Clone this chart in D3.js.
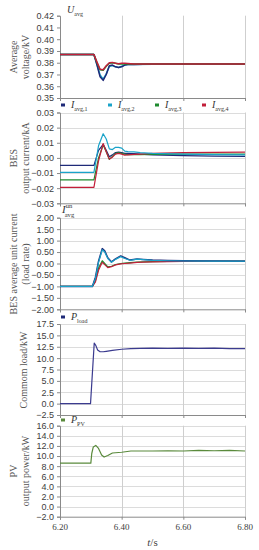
<!DOCTYPE html>
<html>
<head>
<meta charset="utf-8">
<script src="https://cdn.jsdelivr.net/npm/d3@7/dist/d3.min.js"></script>
<style>
  body { margin: 0; background: #fff; }
  svg { font-family: "Liberation Serif", "DejaVu Serif", serif; }
  .tick text { fill: #404040; font-size: 9px; }
  .axisTitle { fill: #555; font-size: 10px; }
</style>
</head>
<body>
<script>
// time ticks (x axis)
var xTicks = [6.20, 6.40, 6.60, 6.80];

// panel 1: average voltage (kV)
var tV = [6.20, 6.31, 6.32, 6.33, 6.34, 6.35, 6.36, 6.37, 6.38, 6.39, 6.40, 6.41, 6.42, 6.44, 6.50, 6.60, 6.80];
var uAvg1 = [0.387, 0.387, 0.378, 0.368, 0.365, 0.370, 0.3775, 0.378, 0.3765, 0.376, 0.3765, 0.378, 0.3785, 0.3785, 0.379, 0.379, 0.379];
var uAvg2 = [0.387, 0.387, 0.3785, 0.3695, 0.366, 0.3705, 0.377, 0.3775, 0.3765, 0.376, 0.377, 0.378, 0.3785, 0.3785, 0.3788, 0.379, 0.379];
var uAvg3 = [0.387, 0.387, 0.380, 0.374, 0.3735, 0.377, 0.3795, 0.380, 0.3795, 0.379, 0.379, 0.379, 0.379, 0.379, 0.379, 0.379, 0.379];
var uAvg4 = [0.387, 0.387, 0.3805, 0.3745, 0.374, 0.3775, 0.380, 0.3803, 0.3795, 0.3792, 0.3795, 0.3795, 0.3793, 0.379, 0.379, 0.379, 0.379];
var voltTicks = [0.35, 0.36, 0.37, 0.38, 0.39, 0.40, 0.41, 0.42];

// panel 2: BES output current (kA)
var tI = [6.20, 6.31, 6.325, 6.34, 6.35, 6.36, 6.37, 6.38, 6.39, 6.40, 6.41, 6.42, 6.44, 6.46, 6.50, 6.60, 6.70, 6.80];
var iAvg1 = [-0.005, -0.005, 0.005, 0.009, 0.005, 0.0008, 0.002, 0.0035, 0.0038, 0.0035, 0.003, 0.003, 0.0028, 0.0025, 0.002, 0.0015, 0.0012, 0.001];
var iAvg2 = [-0.0095, -0.0095, 0.008, 0.016, 0.0125, 0.006, 0.0055, 0.007, 0.007, 0.0065, 0.0045, 0.0042, 0.004, 0.0035, 0.003, 0.0025, 0.0022, 0.002];
var iAvg3 = [-0.0145, -0.0145, 0.0, 0.0085, 0.004, -0.001, 0.001, 0.003, 0.0035, 0.003, 0.0025, 0.0022, 0.0022, 0.0022, 0.0023, 0.0025, 0.0025, 0.0025];
var iAvg4 = [-0.0195, -0.0195, -0.002, 0.0095, 0.004, -0.0008, 0.0005, 0.0025, 0.003, 0.0025, 0.0018, 0.002, 0.0023, 0.0025, 0.003, 0.0035, 0.0037, 0.0038];
var currTicks = [-0.03, -0.02, -0.01, 0.00, 0.01, 0.02, 0.03];

// panel 3: BES average unit current (load rate)
var tR = [6.20, 6.305, 6.315, 6.325, 6.337, 6.345, 6.355, 6.367, 6.38, 6.397, 6.41, 6.427, 6.45, 6.47, 6.50, 6.55, 6.60, 6.70, 6.80];
var rate1 = [-1, -1, -0.6, 0.1, 0.65, 0.55, 0.25, 0.07, 0.2, 0.33, 0.25, 0.15, 0.2, 0.18, 0.15, 0.13, 0.12, 0.11, 0.1];
var rate2 = [-1, -1, -0.65, 0.05, 0.6, 0.5, 0.22, 0.05, 0.18, 0.3, 0.22, 0.14, 0.19, 0.17, 0.14, 0.12, 0.11, 0.1, 0.1];
var rate3 = [-1, -1, -0.75, -0.2, 0.12, 0.0, -0.15, -0.12, -0.05, 0.0, 0.02, 0.04, 0.06, 0.07, 0.08, 0.09, 0.1, 0.1, 0.1];
var rate4 = [-1, -1, -0.8, -0.3, 0.05, -0.05, -0.18, -0.14, -0.06, -0.02, 0.0, 0.02, 0.05, 0.06, 0.07, 0.08, 0.09, 0.1, 0.1];
var rateTicks = [-2.0, -1.5, -1.0, -0.5, 0.0, 0.5, 1.0, 1.5, 2.0];

// panel 4: common load (kW)
var tL = [6.20, 6.299, 6.311, 6.316, 6.322, 6.33, 6.34, 6.35, 6.37, 6.40, 6.43, 6.46, 6.50, 6.55, 6.60, 6.65, 6.70, 6.75, 6.80];
var pLoad = [0, 0, 13.3, 12.8, 11.8, 11.4, 11.4, 11.5, 11.7, 11.95, 12.1, 12.15, 12.2, 12.15, 12.2, 12.15, 12.2, 12.1, 12.1];
var loadTicks = [-2.5, 0.0, 2.5, 5.0, 7.5, 10.0, 12.5, 15.0, 17.5];

// panel 5: PV output power (kW)
var tPV = [6.20, 6.30, 6.303, 6.308, 6.316, 6.325, 6.335, 6.343, 6.355, 6.37, 6.40, 6.43, 6.50, 6.55, 6.60, 6.65, 6.70, 6.75, 6.80];
var pPV = [8.6, 8.6, 10.5, 11.8, 12.1, 11.5, 10.2, 9.8, 10.1, 10.6, 10.75, 11.0, 11.0, 11.05, 11.0, 11.1, 11.05, 11.1, 11.0];
var pvTicks = [-2.0, 0.0, 2.0, 4.0, 6.0, 8.0, 10.0, 12.0, 14.0, 16.0];

// colours
var cNavy = "#1f2a78";
var cCyan = "#1aa3c9";
var cGreen = "#1e8a2e";
var cRed = "#c21f3a";
var cLoad = "#3b3b8f";
var cPV = "#5a8a3c";

var w = 259;
var h = 550;
var left = 60;
var right = 245;

var svg = d3.select("body")
  .append("svg")
  .attr("width", w)
  .attr("height", h);

var x = d3.scaleLinear()
  .domain([6.2, 6.8])
  .range([left, right]);

// draws one panel with grid, axis and lines
function drawPanel(top, bottom, ticks, fmt, series, hGrid) {
  var y = d3.scaleLinear()
    .domain([ticks[0], ticks[ticks.length - 1]])
    .range([bottom, top]);

  var g = svg.append("g");

  // horizontal grid
  if (hGrid) {
    g.selectAll(".hgrid")
      .data(ticks.slice(1))
      .enter()
      .append("line")
      .attr("x1", left).attr("x2", right)
      .attr("y1", function(d) { return Math.round(y(d)) + 0.5; })
      .attr("y2", function(d) { return Math.round(y(d)) + 0.5; })
      .attr("stroke", "#dcdcdc")
      .attr("stroke-width", 1);
  }

  // vertical grid
  g.selectAll(".vgrid")
    .data(xTicks.slice(1))
    .enter()
    .append("line")
    .attr("x1", function(d) { return Math.round(x(d)) + 0.5; })
    .attr("x2", function(d) { return Math.round(x(d)) + 0.5; })
    .attr("y1", top).attr("y2", bottom)
    .attr("stroke", "#cfcfcf")
    .attr("stroke-width", 1);

  // bottom axis line with small ticks
  g.append("g")
    .attr("transform", "translate(0," + bottom + ")")
    .call(d3.axisBottom(x).tickValues(xTicks).tickSize(3).tickFormat(""))
    .call(function(a) { a.selectAll("path, line").attr("stroke", "#8a8a8a"); });

  // left axis
  g.append("g")
    .attr("transform", "translate(" + left + ",0)")
    .call(d3.axisLeft(y).tickValues(ticks).tickSize(3).tickPadding(3).tickFormat(d3.format(fmt)))
    .call(function(a) {
      a.select(".domain").attr("stroke", "#8a8a8a");
      a.selectAll(".tick line").attr("stroke", "#8a8a8a");
      a.selectAll(".tick text").attr("font-family", null).attr("font-size", null);
    });

  var line = d3.line()
    .x(function(d) { return x(d[0]); })
    .y(function(d) { return y(d[1]); });

  series.forEach(function(s) {
    g.append("path")
      .datum(d3.zip(s.t, s.v))
      .attr("fill", "none")
      .attr("stroke", s.color)
      .attr("stroke-width", s.width || 1.2)
      .attr("stroke-linejoin", "round")
      .attr("d", line);
  });
  return y;
}

// symbol label like I_avg,1 (italic main letter, optional sup/sub)
function symbolText(xPos, yPos, main, sub, sup, size) {
  var t = svg.append("text")
    .attr("x", xPos)
    .attr("y", yPos)
    .attr("fill", "#333")
    .attr("font-size", size);
  t.append("tspan").attr("font-style", "italic").text(main);
  if (sup) {
    t.append("tspan").attr("dy", -size * 0.45).attr("font-size", size * 0.6).text(sup);
    t.append("tspan").attr("dx", -size * 0.6 * 0.5 * sup.length - 1).attr("dy", size * 0.8).attr("font-size", size * 0.6).text(sub);
  } else {
    t.append("tspan").attr("dy", size * 0.25).attr("font-size", size * 0.6).text(sub);
  }
}

function legendItem(xPos, yPos, color, main, sub) {
  svg.append("rect")
    .attr("x", xPos - 2).attr("y", yPos - 1.5)
    .attr("width", 4).attr("height", 3)
    .attr("fill", color);
  symbolText(xPos + 8, yPos + 3, main, sub, null, 10);
}

// rotated y axis title (one or two lines)
function axisTitle(lines, xs, cy) {
  lines.forEach(function(l, i) {
    svg.append("text")
      .attr("class", "axisTitle")
      .attr("transform", "translate(" + xs[i] + "," + cy + ") rotate(-90)")
      .attr("text-anchor", "middle")
      .text(l);
  });
}

// panel 1
drawPanel(15.7, 98, voltTicks, ".2f", [
  {t: tV, v: uAvg2, color: cCyan, width: 1.5},
  {t: tV, v: uAvg1, color: cNavy, width: 1.5},
  {t: tV, v: uAvg3, color: cGreen, width: 1.5},
  {t: tV, v: uAvg4, color: cRed, width: 1.5}
], false);
symbolText(67, 13, "U", "avg", null, 10);
axisTitle(["Average", "voltage/kV"], [17, 29], 57);

legendItem(63, 105, cNavy, "I", "avg,1");
legendItem(110, 105, cCyan, "I", "avg,2");
legendItem(157, 105, cGreen, "I", "avg,3");
legendItem(204, 105, cRed, "I", "avg,4");

// panel 2
drawPanel(112.5, 203.3, currTicks, ".2f", [
  {t: tI, v: iAvg1, color: cNavy},
  {t: tI, v: iAvg3, color: cGreen},
  {t: tI, v: iAvg4, color: cRed},
  {t: tI, v: iAvg2, color: cCyan}
], true);
axisTitle(["BES", "output current/kA"], [17, 29], 158);

// panel 3
drawPanel(217.7, 309.3, rateTicks, ".2f", [
  {t: tR, v: rate3, color: cGreen},
  {t: tR, v: rate4, color: cRed},
  {t: tR, v: rate1, color: cNavy, width: 1.5},
  {t: tR, v: rate2, color: cCyan}
], true);
symbolText(62, 213, "I", "avg", "un", 11);
axisTitle(["BES average unit current", "(load rate)"], [17, 29], 264);

legendItem(63, 317, cNavy, "P", "load");

// panel 4
drawPanel(324, 415, loadTicks, ".1f", [
  {t: tL, v: pLoad, color: cLoad}
], true);
axisTitle(["Commom load/kW"], [27], 370);

legendItem(63, 420, cPV, "P", "PV");

// panel 5
drawPanel(425.7, 516.7, pvTicks, ".1f", [
  {t: tPV, v: pPV, color: cPV}
], true);
axisTitle(["PV", "output power/kW"], [17, 29], 471);

// x tick labels
svg.selectAll(".xlab")
  .data(xTicks)
  .enter()
  .append("text")
  .attr("x", function(d) { return x(d); })
  .attr("y", 530)
  .attr("text-anchor", "middle")
  .attr("font-size", 9)
  .attr("fill", "#404040")
  .text(d3.format(".2f"));

// x axis title
var xt = svg.append("text")
  .attr("x", x(6.5))
  .attr("y", 546)
  .attr("text-anchor", "middle")
  .attr("font-size", 11)
  .attr("fill", "#444");
xt.append("tspan").attr("font-style", "italic").text("t");
xt.append("tspan").text("/s");
</script>
</body>
</html>
